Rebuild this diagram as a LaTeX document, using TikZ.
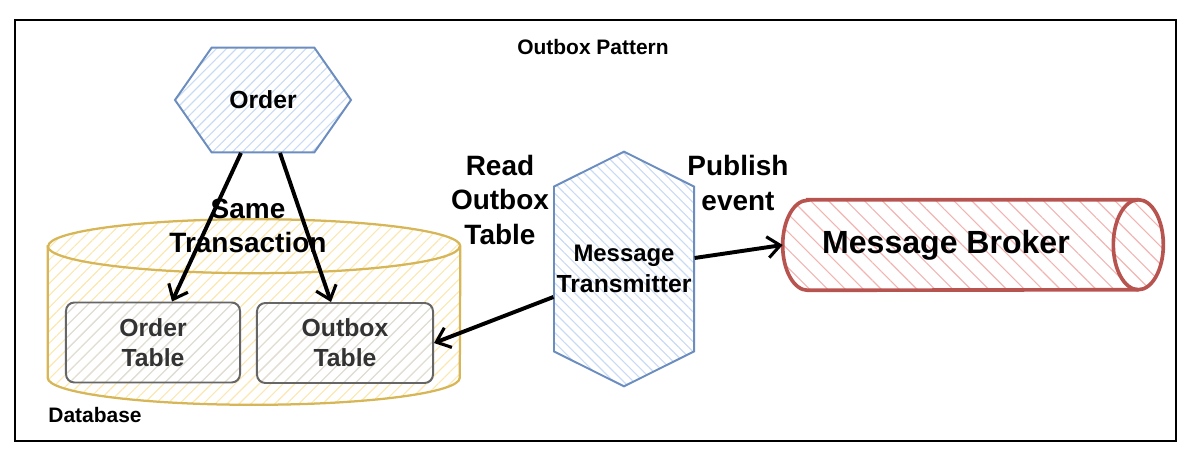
\documentclass[tikz,border=0pt]{standalone}
\usepackage{fontspec}
\setmainfont{Liberation Sans}
\usetikzlibrary{arrows.meta}
\usetikzlibrary{shapes}
\usetikzlibrary{patterns.meta}
\usetikzlibrary{calc}
\definecolor{blueline}{HTML}{6C8EBF}
\definecolor{bluehatch}{HTML}{C8DAF4}
\definecolor{yellowline}{HTML}{D6B656}
\definecolor{yellowhatch}{HTML}{FBE7B0}
\definecolor{redline}{HTML}{B85450}
\definecolor{redhatch}{HTML}{F2B4B2}
\definecolor{greyline}{HTML}{666666}
\definecolor{greyhatch}{HTML}{DDDDDD}
\definecolor{greytext}{HTML}{333333}

\begin{document}
\begin{tikzpicture}[x=0.025cm,y=-0.025cm]
      \useasboundingbox (0,0) rectangle (1185,464);
      \tikzstyle{every node}=[align=center, inner sep=0pt]
      \tikzstyle{small}=[font=\fontsize{14.9pt}{18pt}\selectfont\bfseries]
      \tikzstyle{mid}=[font=\fontsize{17.6pt}{21.5pt}\selectfont\bfseries]
      \tikzstyle{big}=[font=\fontsize{19.9pt}{24.3pt}\selectfont\bfseries]
      \tikzstyle{hexa}=[signal, draw=blueline, line width=1.4pt, mid,
                        pattern={Lines[angle=45,distance=5pt,line width=0.8pt]}, pattern color=bluehatch]
      \tikzstyle{tbl}=[rectangle, rounded corners=6pt, draw=greyline, line width=1.4pt, mid, text=greytext,
                       pattern={Lines[angle=45,distance=6pt,line width=0.8pt]}, pattern color=greyhatch]
      \tikzstyle{flow}=[line width=2.8pt, -{Straight Barb[length=9pt,width=15pt,line width=2.2pt]}]

      \draw[line width=2pt] (15,20) rectangle (1176,441);

      \node[minimum width=10.3cm, minimum height=4.625cm] (db) at (254,312) {};
      \draw[draw=yellowline, line width=1.6pt,
            pattern={Lines[angle=45,distance=6pt,line width=0.8pt]}, pattern color=yellowhatch]
            ($(db.north west)+(0,27)$) -- ($(db.south west)+(0,-27)$)
            arc[start angle=180, end angle=360, x radius=5.15cm, y radius=0.675cm]
            -- ($(db.north east)+(0,27)$)
            arc[start angle=0, end angle=180, x radius=5.15cm, y radius=0.675cm] -- cycle;
      \draw[draw=yellowline, line width=1.6pt] ($(db.north west)+(0,27)$)
            arc[start angle=180, end angle=360, x radius=5.15cm, y radius=0.675cm];

      \node[hexa, signal to=west and east, signal pointer angle=110,
            minimum width=4.4cm, minimum height=2.62cm] (order) at (263,100) {Order};
      \node[hexa, signal to=north and south, signal pointer angle=127,
            pattern={Lines[angle=-45,distance=5pt,line width=0.8pt]},
            minimum width=3.5cm, minimum height=5.8cm] (trans) at (624,269)
            {\fontsize{17pt}{21pt}\selectfont Message\\Transmitter};
      \node[tbl, minimum width=4.35cm, minimum height=2cm] (ordtab) at (153,342.5) {Order\\Table};
      \node[tbl, minimum width=4.4cm, minimum height=2cm] (outtab) at (345,343) {Outbox\\Table};

      \node[minimum width=9.5cm, minimum height=2.25cm] (broker) at (973,245) {};
      \draw[draw=redline, line width=2.6pt,
            pattern={Lines[angle=-45,distance=9pt,line width=0.8pt]}, pattern color=redhatch]
            ($(broker.north west)+(25,0)$) -- ($(broker.north east)+(-25,0)$)
            arc[start angle=90, end angle=-90, x radius=0.625cm, y radius=1.125cm]
            -- ($(broker.south west)+(25,0)$)
            arc[start angle=270, end angle=90, x radius=0.625cm, y radius=1.125cm] -- cycle;
      \draw[draw=redline, line width=2.6pt] ($(broker.north east)+(-25,0)$)
            arc[start angle=90, end angle=270, x radius=0.625cm, y radius=1.125cm];
      \node[font=\fontsize{22.8pt}{27pt}\selectfont\bfseries] (brokername) at ($(broker)+(-27,0)$) {Message Broker};

      \draw[flow] ($(order.south)+(-22,0)$) -- (ordtab);
      \draw[flow] ($(order.south)+(17,0)$)  -- (outtab);
      \draw[flow] ($(trans.west)+(0,28)$)   -- (outtab.east);
      \draw[flow] ($(trans.east)+(0,-11)$)  -- (broker.west);

      \node[small] (title)  at (593,47)  {Outbox Pattern};
      \node[small] (dbname) at (95,415)  {Database};
      \node[big]   (same)   at (248,226) {Same\\Transaction};
      \node[big]   (read)   at (500,200) {Read\\Outbox\\Table};
      \node[big]   (pub)    at (738,183) {Publish\\event};
\end{tikzpicture}
\end{document}
